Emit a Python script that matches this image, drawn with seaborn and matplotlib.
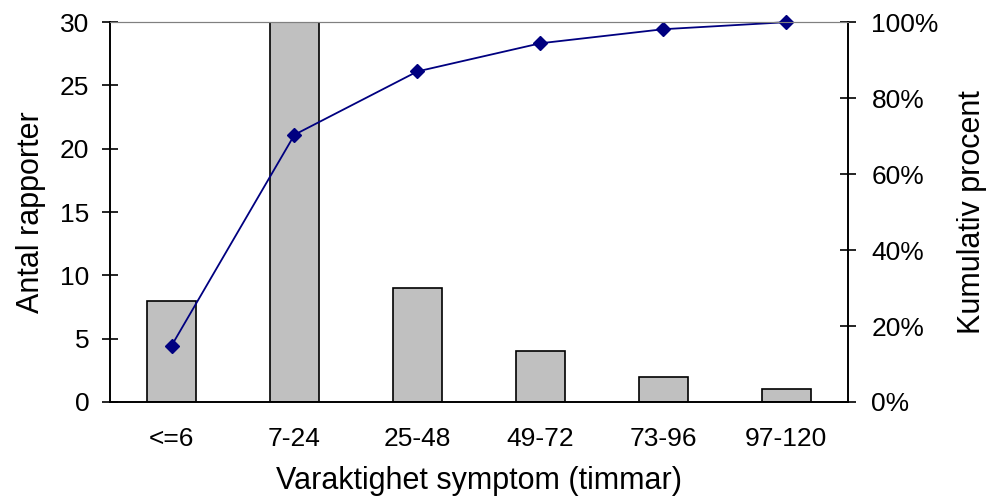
import numpy as np
import pandas as pd
import matplotlib
matplotlib.use("Agg")
import matplotlib.pyplot as plt
from matplotlib.ticker import FuncFormatter, FixedLocator
import seaborn as sns

categories = ["<=6", "7-24", "25-48", "49-72", "73-96", "97-120"]
counts = [8, 30, 9, 4, 2, 1]
cum_pct = list(np.cumsum(counts) / np.sum(counts) * 100)

sns.set_theme(style="white")
plt.rcParams['font.family'] = ['Liberation Sans', 'DejaVu Sans']
plt.rcParams['text.color'] = 'black'
plt.rcParams['axes.labelcolor'] = 'black'
plt.rcParams['xtick.color'] = 'black'
plt.rcParams['ytick.color'] = 'black'

df = pd.DataFrame({"cat": categories, "n": counts, "cum": cum_pct})

fig = plt.figure(figsize=(9.87, 5.04), dpi=100)
ax = fig.add_axes([0.1115, 0.2024, 0.859 - 0.1115, 0.956 - 0.2024])

sns.barplot(data=df, x="cat", y="n", ax=ax, color="#C0C0C0", saturation=1,
            edgecolor="black", linewidth=1.2, width=0.4)
ax.set_xlim(-0.5, 5.5)
ax.set_ylim(0, 30)
ax.set_yticks([0, 5, 10, 15, 20, 25, 30])

ax2 = ax.twinx()
sns.pointplot(data=df, x="cat", y="cum", ax=ax2, color="#000080", markers="D",
              linestyles="-", markersize=7, linewidth=1.3)
for art in ax2.lines + ax2.collections:
    art.set_clip_on(False)
ax2.set_xlim(-0.5, 5.5)
ax2.set_ylim(0, 100)
ax2.set_yticks([0, 20, 40, 60, 80, 100])
ax2.yaxis.set_major_formatter(FuncFormatter(lambda v, p: f"{v:.0f}%"))

# x ticks: marks at category boundaries, labels at centers
ax.xaxis.set_major_locator(FixedLocator(np.arange(-0.5, 6, 1.0)))
ax.set_xticklabels([""] * 7)
ax.xaxis.set_minor_locator(FixedLocator(np.arange(len(categories))))
ax.set_xticklabels(categories, minor=True)
ax.tick_params(axis="x", which="major", direction="inout", length=12, width=1.2, color="black")
ax.tick_params(axis="x", which="minor", length=0, pad=18, labelsize=19, labelcolor="black")
ax.tick_params(axis="y", direction="inout", length=12, width=1.2, color="black", labelsize=19, pad=9, labelcolor="black")
ax2.tick_params(axis="y", direction="inout", length=12, width=1.2, color="black", labelsize=19, pad=11, labelcolor="black")
ax2.tick_params(axis="x", length=0)

for a in (ax, ax2):
    a.spines["top"].set_color("#808080")
    a.spines["top"].set_linewidth(0.8)
    for s in ("left", "right", "bottom"):
        a.spines[s].set_color("black")
        a.spines[s].set_linewidth(1.2)
    a.grid(False)

ax.set_xlabel("Varaktighet symptom (timmar)", fontsize=22, labelpad=11, color="black")
ax.set_ylabel("Antal rapporter", fontsize=22, labelpad=10, color="black")
ax2.set_ylabel("Kumulativ procent", fontsize=22, labelpad=13, rotation=90, color="black")

fig.savefig("out.png", dpi=100)
